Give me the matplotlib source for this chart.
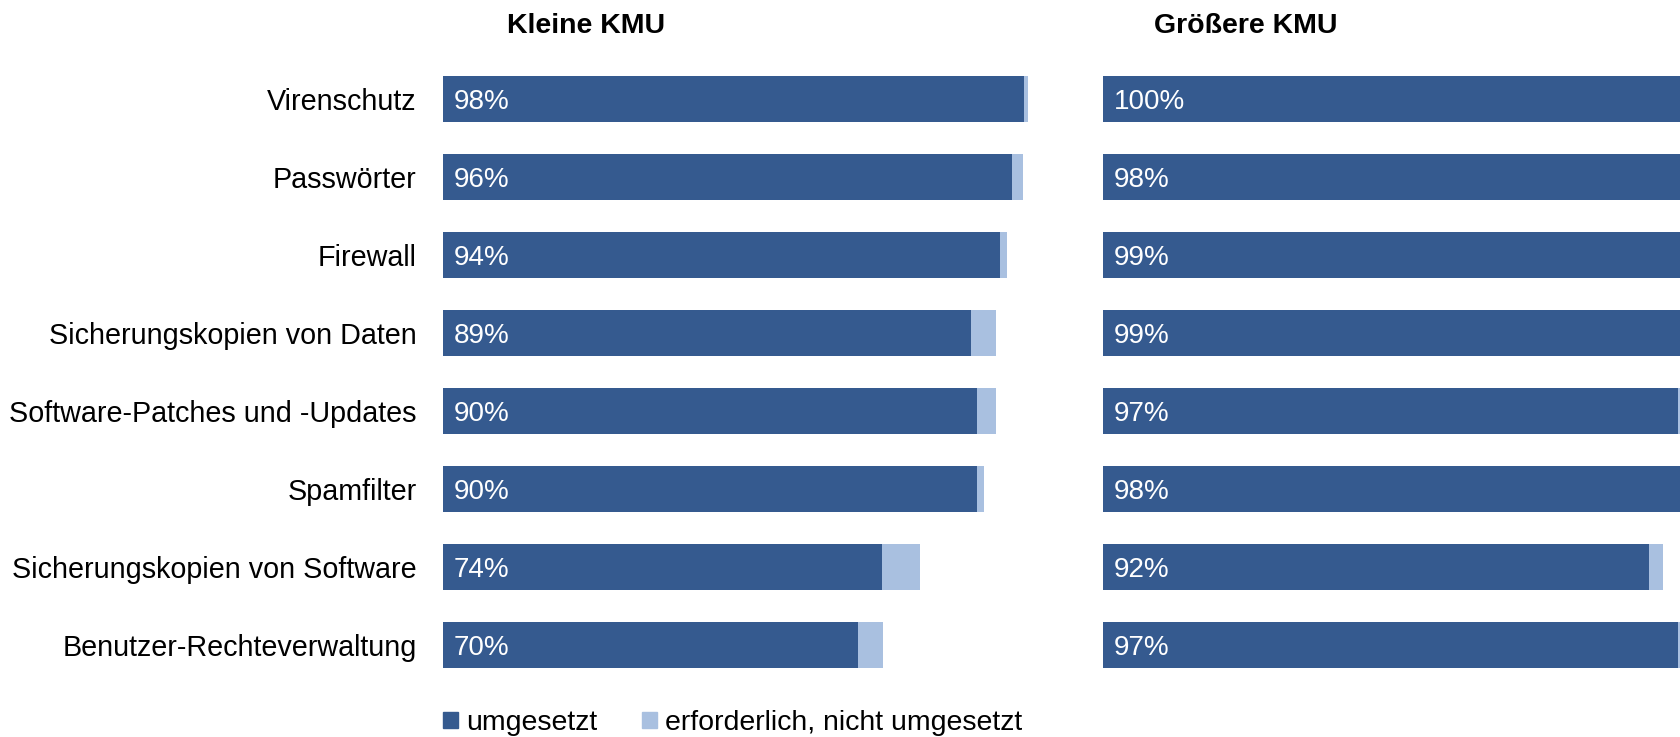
import matplotlib.pyplot as plt
import numpy as np

plt.rcParams['font.family'] = ['Liberation Sans', 'DejaVu Sans']

categories = ['Virenschutz', 'Passwörter', 'Firewall', 'Sicherungskopien von Daten',
              'Software-Patches und -Updates', 'Spamfilter',
              'Sicherungskopien von Software', 'Benutzer-Rechteverwaltung']

small_done = [98, 96, 94, 89, 90, 90, 74, 70]
small_needed = [0.7, 1.8, 1.1, 4.3, 3.3, 1.3, 6.5, 4.2]

large_done = [100, 98, 99, 99, 97, 98, 92, 97]
large_needed = [0, 1, 0.5, 0.5, 1.2, 1, 2.5, 1.2]

panel_titles = ['Kleine KMU', 'Größere KMU']
legend_labels = ['umgesetzt', 'erforderlich, nicht umgesetzt']

dark = '#355a8f'
light = '#a9c0e0'

W, H = 1681, 737
fig = plt.figure(figsize=(W / 100, H / 100), dpi=100)

bottom = 1 - 684 / H
height = 624 / H
ax1 = fig.add_axes([443 / W, bottom, 593 / W, height])
ax2 = fig.add_axes([1103 / W, bottom, 593 / W, height])

y = np.arange(len(categories))
for ax, done, needed in [(ax1, small_done, small_needed), (ax2, large_done, large_needed)]:
    ax.barh(y, done, height=0.59, color=dark)
    ax.barh(y, needed, left=done, height=0.59, color=light)
    for yi, v in zip(y, done):
        ax.annotate(f'{v}%', (0, yi), xytext=(8, -2.5), textcoords='offset points',
                    va='center', ha='left', color='white', fontsize=20)
    ax.set_xlim(0, 100)
    ax.set_ylim(len(categories) - 0.5, -0.5)
    for s in ax.spines.values():
        s.set_visible(False)
    ax.set_xticks([])
    ax.tick_params(axis='y', length=0, pad=19)

ax1.set_yticks(y)
ax1.set_yticklabels(categories, fontsize=20.7)
ax2.set_yticks([])

fig.text(586 / W, 1 - 26 / H, panel_titles[0], ha='center', va='center',
         fontsize=20.5, fontweight='bold')
fig.text(1246 / W, 1 - 26 / H, panel_titles[1], ha='center', va='center',
         fontsize=20.5, fontweight='bold')

handles = [plt.Rectangle((0, 0), 1, 1, color=dark), plt.Rectangle((0, 0), 1, 1, color=light)]
fig.legend(handles, legend_labels, loc='center left', bbox_to_anchor=(443 / W, 1 - 723 / H),
           ncol=2, frameon=False, fontsize=20.5, handlelength=0.52, handleheight=0.52,
           handletextpad=0.3, columnspacing=1.55, borderpad=0, borderaxespad=0)

fig.savefig('out.png', dpi=100)
